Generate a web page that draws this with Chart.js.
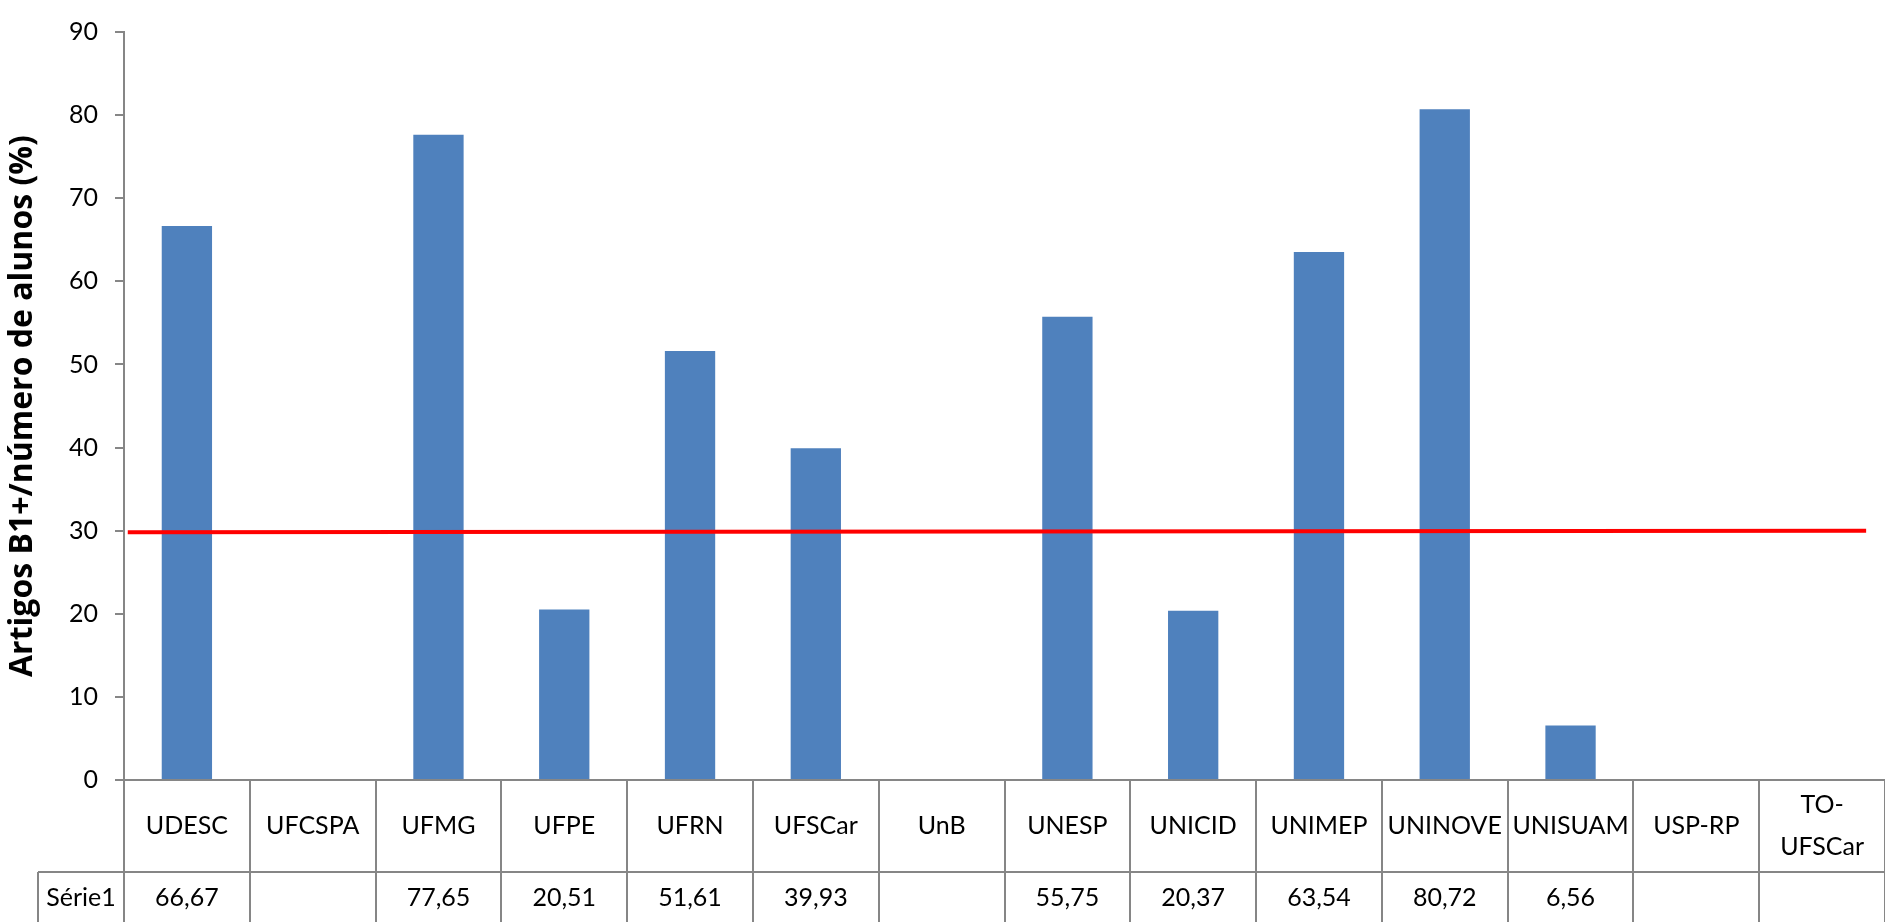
<!DOCTYPE html>
<html lang="pt">
<head>
<meta charset="UTF-8">
<title>Artigos B1+</title>
<script src="https://cdn.jsdelivr.net/npm/chart.js"></script>
<style>
  html, body { margin: 0; padding: 0; background: #fff; }
  #wrap { width: 1885px; height: 922px; }
</style>
</head>
<body>
<div id="wrap"><canvas id="chart"></canvas></div>
<script>
// data
var categories = ['UDESC', 'UFCSPA', 'UFMG', 'UFPE', 'UFRN', 'UFSCar', 'UnB', 'UNESP', 'UNICID', 'UNIMEP', 'UNINOVE', 'UNISUAM', 'USP-RP', ['TO-', 'UFSCar']];
var serie1 = [66.67, null, 77.65, 20.51, 51.61, 39.93, null, 55.75, 20.37, 63.54, 80.72, 6.56, null, null];
var seriesName = 'Série1';
var yTicks = [0, 10, 20, 30, 40, 50, 60, 70, 80, 90];
// hand drawn reference line (slightly tilted, around 30%)
var refLineX = [0.03, 13.85];
var refLineY = [29.8, 30.0];

var gray = '#868686';
var font = 'Lato';

function fmt(v) {
    return v == null ? '' : v.toFixed(2).replace('.', ',');
}

// the data table under the x axis
var tablePlugin = {
    id: 'dataTable',
    afterDraw: function (chart) {
        var ctx = chart.ctx;
        var x = chart.scales.x;
        var area = chart.chartArea;
        var n = categories.length;
        var w = (area.right - area.left) / n;
        var top = area.bottom;
        var rowY = top + 92;
        var bottom = chart.height;
        ctx.save();
        ctx.strokeStyle = gray;
        ctx.lineWidth = 2;
        ctx.beginPath();
        ctx.moveTo(area.left - 9, top);
        ctx.lineTo(area.right, top);
        ctx.moveTo(38, rowY);
        ctx.lineTo(area.right, rowY);
        ctx.moveTo(38, rowY);
        ctx.lineTo(38, bottom);
        for (var i = 0; i <= n; i++) {
            var bx = Math.round(area.left + i * w);
            ctx.moveTo(bx, top);
            ctx.lineTo(bx, bottom);
        }
        ctx.stroke();

        ctx.fillStyle = '#000';
        ctx.font = '25px ' + font;
        ctx.textAlign = 'center';
        ctx.textBaseline = 'middle';
        categories.forEach(function (c, i) {
            var cx = x.getPixelForValue(i);
            if (Array.isArray(c)) {
                ctx.fillText(c[0], cx, top + 25);
                ctx.fillText(c[1], cx, top + 67);
            } else {
                ctx.fillText(c, cx, top + 46);
            }
            ctx.fillText(fmt(serie1[i]), cx, rowY + 26);
        });
        ctx.fillText(seriesName, 81, rowY + 26);
        ctx.restore();
    }
};

new Chart(document.getElementById('chart'), {
    type: 'bar',
    data: {
        labels: categories,
        datasets: [
            {
                type: 'bar',
                label: seriesName,
                data: serie1,
                backgroundColor: '#4F81BD',
                categoryPercentage: 1,
                barPercentage: 0.4,
                grouped: false,
                order: 2
            },
            {
                type: 'line',
                label: 'ref',
                xAxisID: 'x2',
                data: refLineX.map(function (v, i) { return { x: v, y: refLineY[i] }; }),
                borderColor: '#FF0000',
                borderWidth: 4,
                pointRadius: 0,
                order: 1
            }
        ]
    },
    options: {
        responsive: true,
        maintainAspectRatio: false,
        animation: false,
        layout: { padding: { top: 6, right: 0, bottom: 142, left: 0 } },
        plugins: {
            legend: { display: false },
            tooltip: { enabled: false }
        },
        scales: {
            x: {
                type: 'category',
                display: false
            },
            x2: {
                type: 'linear',
                display: false,
                offset: false,
                bounds: 'data',
                min: 0,
                max: categories.length
            },
            y: {
                min: 0,
                max: 90,
                afterBuildTicks: function (s) {
                    s.ticks = yTicks.map(function (v) { return { value: v }; });
                },
                afterFit: function (s) { s.width = 124; },
                border: { color: gray, width: 2 },
                grid: { drawOnChartArea: false, tickLength: 9, color: gray, lineWidth: 2 },
                ticks: {
                    color: '#000',
                    padding: 17,
                    font: { family: font, size: 25 }
                },
                title: {
                    display: true,
                    text: 'Artigos B1+/número de alunos (%)',
                    color: '#000',
                    font: { family: 'Open Sans', size: 32, weight: 'bold' },
                    padding: { top: 4, bottom: 0 }
                }
            }
        }
    },
    plugins: [tablePlugin]
});
</script>
</body>
</html>
